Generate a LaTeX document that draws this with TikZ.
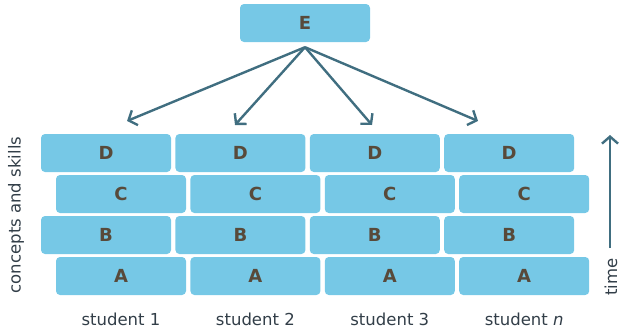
\documentclass[tikz,border=0pt]{standalone}
\usepackage{fontspec}
\setmainfont{DejaVu Sans}
\usepackage{tikz}
\usetikzlibrary{positioning,arrows.meta}

\definecolor{brickblue}{RGB}{118,200,230}
\definecolor{letterbrown}{RGB}{88,74,58}
\definecolor{arrowteal}{RGB}{64,110,128}
\definecolor{labelgray}{RGB}{50,62,72}

\tikzset{
  brick/.style={fill=brickblue, rounded corners=4pt, minimum width=130pt, minimum height=38pt,
    inner sep=0pt, text=letterbrown, font=\fontsize{18}{20}\selectfont\bfseries},
  lbl/.style={text=labelgray, font=\fontsize{16.5}{20}\selectfont, inner sep=0pt},
  arr/.style={draw=arrowteal, line width=2.4pt, -{Straight Barb[length=7pt,width=16pt]}}
}

\begin{document}
\begin{tikzpicture}[x=1pt, y=-1pt]

            \useasboundingbox (0,0) rectangle (621,335);

            % Top box

            \node[brick] (e) at (305,23) {E};

            % Wall

            \node[brick] (d1) at (106,153) {D};
            \node[brick, right=4pt of d1] (d2) {D};
            \node[brick, right=4pt of d2] (d3) {D};
            \node[brick, right=4pt of d3] (d4) {D};

            \node[brick] (c1) at (121,194) {C};
            \node[brick, right=4pt of c1] (c2) {C};
            \node[brick, right=4pt of c2] (c3) {C};
            \node[brick, right=4pt of c3] (c4) {C};

            \node[brick] (b1) at (106,235) {B};
            \node[brick, right=4pt of b1] (b2) {B};
            \node[brick, right=4pt of b2] (b3) {B};
            \node[brick, right=4pt of b3] (b4) {B};

            \node[brick] (a1) at (121,276) {A};
            \node[brick, right=4pt of a1] (a2) {A};
            \node[brick, right=4pt of a2] (a3) {A};
            \node[brick, right=4pt of a3] (a4) {A};

            % Labels

            \node[lbl, anchor=base] (s1) at ([yshift=-30pt]a1.south) {student 1};
            \node[lbl, anchor=base] (s2) at ([yshift=-30pt]a2.south) {student 2};
            \node[lbl, anchor=base] (s3) at ([yshift=-30pt]a3.south) {student 3};
            \node[lbl, anchor=base] (s4) at ([yshift=-30pt]a4.south) {student \textit{n}};
            \node[lbl, rotate=90] (cs) at (16,215) {concepts and skills};
            \node[lbl, rotate=90] (time) at (611,277) {time};

            % Arrows

            \coordinate (o) at ([yshift=-5pt]e.south);
            \coordinate (t1) at (127,121);
            \coordinate (t2) at (235,125);
            \coordinate (t3) at (372,125);
            \coordinate (t4) at (478,121);
            \coordinate (tt) at (610,135);

            \draw[arr] (o) -- (t1);
            \draw[arr] (o) -- (t2);
            \draw[arr] (o) -- (t3);
            \draw[arr] (o) -- (t4);
            \draw[arr] ([shift={(-1pt,10pt)}]time.east) -- (tt);

\end{tikzpicture}
\end{document}
